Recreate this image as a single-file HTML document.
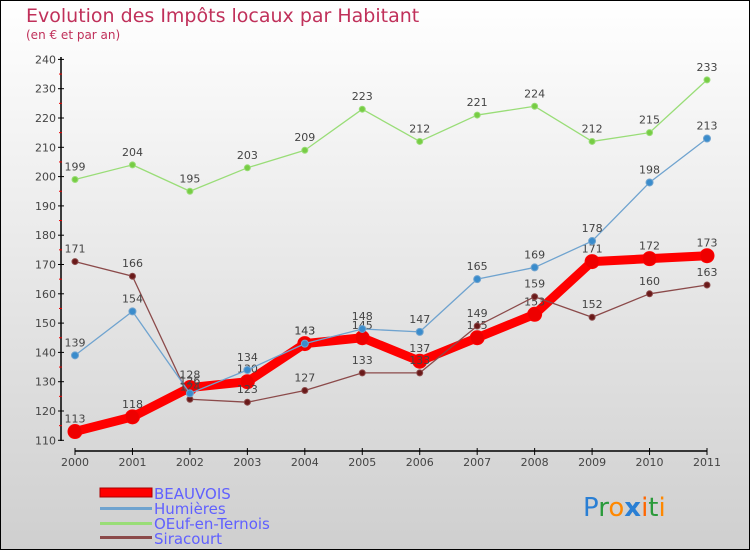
<!DOCTYPE html>
<html><head><meta charset="utf-8"><style>
body{margin:0;}
#c{width:750px;height:550px;position:relative;font-family:"DejaVu Sans","Liberation Sans",sans-serif;}
</style></head><body>
<div id="c">
<svg id="s" width="750" height="550" xmlns="http://www.w3.org/2000/svg">
<defs><linearGradient id="bg" x1="0" y1="0" x2="0" y2="1"><stop offset="0" stop-color="#ffffff"/><stop offset="1" stop-color="#cfcfcf"/></linearGradient></defs>
<rect x="0.5" y="0.5" width="749" height="549" fill="url(#bg)" stroke="#000"/>
<text x="26" y="22" font-size="19" fill="#c0305a">Evolution des Impôts locaux par Habitant</text>
<text x="26" y="39" font-size="12" fill="#c0305a">(en € et par an)</text>
<g id="axes"></g><g id="series"></g>
<g font-size="15" fill="#6060ff">
<rect x="100" y="488" width="52" height="9" fill="#ff0000" stroke="#aa0000"/>
<text x="154" y="499">BEAUVOIS</text>
<rect x="100" y="507" width="52" height="3" fill="#6fa3cf"/>
<text x="154" y="514">Humières</text>
<rect x="100" y="522" width="52" height="3" fill="#99dd77"/>
<text x="154" y="529">OEuf-en-Ternois</text>
<rect x="100" y="536" width="52" height="3" fill="#8b4a4a"/>
<text x="154" y="544">Siracourt</text>
</g>
<g font-size="26" font-family="DejaVu Sans, sans-serif">
<text x="583" y="516"><tspan fill="#2a7fd4">P</tspan><tspan fill="#2a9a3a">r</tspan><tspan fill="#ff8800">o</tspan><tspan fill="#2a7fd4" font-weight="bold">x</tspan><tspan fill="#ff6600">i</tspan><tspan fill="#2a9a3a">t</tspan><tspan fill="#ff8800">i</tspan></text>
</g>
</svg></div>
<script>
const years=["2000","2001","2002","2003","2004","2005","2006","2007","2008","2009","2010","2011"];
const yTicks=[110,120,130,140,150,160,170,180,190,200,210,220,230,240];
const beauvois=[113,118,128,130,143,145,137,145,153,171,172,173];
const humieres=[139,154,126,134,143,148,147,165,169,178,198,213];
const oeuf=[199,204,195,203,209,223,212,221,224,212,215,233];
const siracourt=[171,166,124,123,127,133,133,149,159,152,160,163];
const NS="http://www.w3.org/2000/svg";
function X(i){return 75+i*(707-75)/11;}
function Y(v){return 440.3-(v-110)*2.93;}
function mk(t,a,p){const e=document.createElementNS(NS,t);for(const k in a)e.setAttribute(k,a[k]);p.appendChild(e);return e;}
const ax=document.getElementById('axes');
let e=mk('line',{x1:61,y1:57,x2:61,y2:441,stroke:'#000','stroke-width':1.5},ax);

e=mk('line',{x1:75,y1:451,x2:707,y2:451,stroke:'#000','stroke-width':1.5},ax);

yTicks.forEach((v,i)=>{mk('line',{x1:58,y1:Y(v),x2:64,y2:Y(v),stroke:'#000'},ax);
 if(i<yTicks.length-1)mk('line',{x1:59,y1:Y(v+5),x2:62,y2:Y(v+5),stroke:'#e00'},ax);
 const t=mk('text',{x:56,y:Y(v)+4,'text-anchor':'end','font-size':11,fill:'#444'},ax);t.textContent=v;
 });
years.forEach((y,i)=>{mk('line',{x1:X(i),y1:448,x2:X(i),y2:455,stroke:'#000'},ax);
 const t=mk('text',{x:X(i),y:466,'text-anchor':'middle','font-size':11,fill:'#444'},ax);t.textContent=y;
 });
const sg=document.getElementById('series');
function draw(vals,name,col,w,r,dot){const g=mk('g',{},sg);
 
 mk('polyline',{points:vals.map((v,i)=>X(i)+','+Y(v)).join(' '),fill:'none',stroke:col,'stroke-width':w,'stroke-linejoin':'round'},g);
 vals.forEach((v,i)=>{const c=mk('circle',{cx:X(i),cy:Y(v),r:r,fill:dot,stroke:col,'stroke-width':1},g);
  
  const t=mk('text',{x:X(i),y:Y(v)-9,'text-anchor':'middle','font-size':11,fill:'#444'},g);t.textContent=v;
  });}
draw(beauvois,'beauvois','#ff0000',9,7,'#ee0000');
draw(oeuf,'oeuf-en-ternois','#99dd77',1.3,3,'#77cc44');
draw(siracourt,'siracourt','#8b4a4a',1.3,3,'#6a1a1a');
draw(humieres,'humieres','#6fa3cf',1.3,3.5,'#3a8ccc');
</script>
</body></html>
